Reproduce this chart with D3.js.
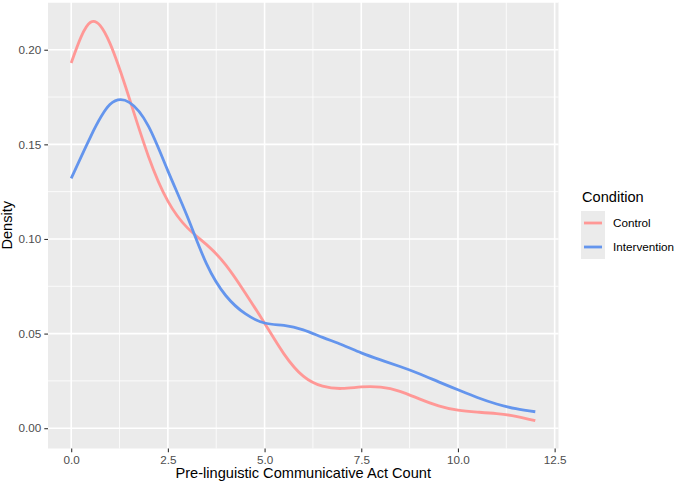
<!DOCTYPE html>
<html>
<head>
<meta charset="utf-8">
<script src="https://cdn.jsdelivr.net/npm/d3@7"></script>
<style>
  body { margin: 0; background: #fff; }
  text { font-family: "Liberation Sans", Arial, Helvetica, sans-serif; }
</style>
</head>
<body>
<div id="chart"></div>
<script>
// density values, on a 0.5 grid
const xs = [0, 0.5, 1, 1.5, 2, 2.5, 3, 3.5, 4, 4.5, 5, 5.5, 6, 6.5, 7, 7.5, 8, 8.5, 9, 9.5, 10, 10.5, 11, 11.5, 12];
const control = [0.193, 0.2145, 0.2035, 0.1745, 0.1435, 0.120, 0.106, 0.097, 0.0862, 0.0715, 0.0555, 0.0393, 0.0275, 0.0222, 0.021, 0.0218, 0.0217, 0.0195, 0.0155, 0.0118, 0.0095, 0.0085, 0.0077, 0.0063, 0.004];
const intervention = [0.132, 0.154, 0.171, 0.1722, 0.1595, 0.136, 0.112, 0.0868, 0.070, 0.0605, 0.0556, 0.0543, 0.052, 0.048, 0.0441, 0.0398, 0.0361, 0.0326, 0.0288, 0.0245, 0.0203, 0.0162, 0.0128, 0.0103, 0.0087];
const groups = ["Control", "Intervention"];
const colors = ["#FF9896", "#6495ED"];
const xTicks = [0, 2.5, 5, 7.5, 10, 12.5];
const yTicks = [0, 0.05, 0.10, 0.15, 0.20];

const W = 676, H = 484;
const panel = {left: 48, right: 558.5, top: 2, bottom: 448.5};

const svg = d3.select("#chart").append("svg")
    .attr("width", W)
    .attr("height", H);

// scales with ggplot style 5% expansion
const xMin = d3.min(xs), xMax = d3.max(xs);
const xPad = (xMax - xMin) * 0.05;
const x = d3.scaleLinear().domain([xMin - xPad, xMax + xPad]).range([panel.left, panel.right]);
const yMax = d3.max(control.concat(intervention));
const y = d3.scaleLinear().domain([-yMax * 0.05, yMax * 1.05]).range([panel.bottom, panel.top]);

// panel
svg.append("rect")
    .attr("x", panel.left).attr("y", panel.top)
    .attr("width", panel.right - panel.left)
    .attr("height", panel.bottom - panel.top)
    .attr("fill", "#EBEBEB");

const grid = svg.append("g");
// minor grid
const xMinor = xTicks.slice(0, -1).map(d => d + 1.25).filter(d => d >= x.domain()[0] && d <= x.domain()[1]);
const yMinor = yTicks.map(d => d + 0.025).filter(d => d <= y.domain()[1]);
grid.selectAll(".xminor").data(xMinor).enter().append("line")
    .attr("x1", d => x(d)).attr("x2", d => x(d))
    .attr("y1", panel.top).attr("y2", panel.bottom)
    .attr("stroke", "#fff").attr("stroke-width", 0.8);
grid.selectAll(".yminor").data(yMinor).enter().append("line")
    .attr("x1", panel.left).attr("x2", panel.right)
    .attr("y1", d => y(d)).attr("y2", d => y(d))
    .attr("stroke", "#fff").attr("stroke-width", 0.8);
// major grid
grid.selectAll(".xmajor").data(xTicks).enter().append("line")
    .attr("x1", d => x(d)).attr("x2", d => x(d))
    .attr("y1", panel.top).attr("y2", panel.bottom)
    .attr("stroke", "#fff").attr("stroke-width", 1.6);
grid.selectAll(".ymajor").data(yTicks).enter().append("line")
    .attr("x1", panel.left).attr("x2", panel.right)
    .attr("y1", d => y(d)).attr("y2", d => y(d))
    .attr("stroke", "#fff").attr("stroke-width", 1.6);

// curves
const line = d3.line()
    .x(d => x(d[0]))
    .y(d => y(d[1]))
    .curve(d3.curveNatural);

[control, intervention].forEach((vals, i) => {
    svg.append("path")
        .datum(xs.map((v, j) => [v, vals[j]]))
        .attr("fill", "none")
        .attr("stroke", colors[i])
        .attr("stroke-width", 2.8)
        .attr("d", line);
});

// axes
const xAxis = svg.append("g")
    .attr("transform", `translate(0,${panel.bottom})`)
    .call(d3.axisBottom(x).tickValues(xTicks).tickFormat(d3.format(".1f")).tickSizeOuter(0).tickSize(3.7).tickPadding(3));
const yAxis = svg.append("g")
    .attr("transform", `translate(${panel.left},0)`)
    .call(d3.axisLeft(y).tickValues(yTicks).tickFormat(d3.format(".2f")).tickSizeOuter(0).tickSize(3.7).tickPadding(3));

[xAxis, yAxis].forEach(a => {
    a.select(".domain").remove();
    a.selectAll(".tick line").attr("stroke", "#333333").attr("stroke-width", 1.1);
    a.selectAll(".tick text")
        .attr("fill", "#4D4D4D")
        .style("font-size", "11.7px")
        .style("font-family", "'Liberation Sans', Arial, sans-serif");
});

// axis titles
svg.append("text")
    .attr("x", (panel.left + panel.right) / 2)
    .attr("y", 478)
    .attr("text-anchor", "middle")
    .style("font-size", "14.6px")
    .attr("fill", "#000")
    .text("Pre-linguistic Communicative Act Count");

svg.append("text")
    .attr("transform", `translate(12,${(panel.top + panel.bottom) / 2}) rotate(-90)`)
    .attr("text-anchor", "middle")
    .style("font-size", "14.6px")
    .attr("fill", "#000")
    .text("Density");

// legend
const legend = svg.append("g").attr("transform", "translate(581,0)");
legend.append("text")
    .attr("x", 1).attr("y", 202)
    .style("font-size", "14.6px")
    .text("Condition");

const keys = legend.selectAll(".key").data(groups).enter().append("g")
    .attr("transform", (d, i) => `translate(0,${211 + i * 24})`);
keys.append("rect")
    .attr("width", 24).attr("height", 24)
    .attr("fill", "#EBEBEB");
keys.append("line")
    .attr("x1", 3).attr("x2", 21)
    .attr("y1", 12).attr("y2", 12)
    .attr("stroke", (d, i) => colors[i])
    .attr("stroke-width", 2.8);
keys.append("text")
    .attr("x", 32).attr("y", 16)
    .style("font-size", "11.7px")
    .attr("fill", "#000")
    .text(d => d);
</script>
</body>
</html>
